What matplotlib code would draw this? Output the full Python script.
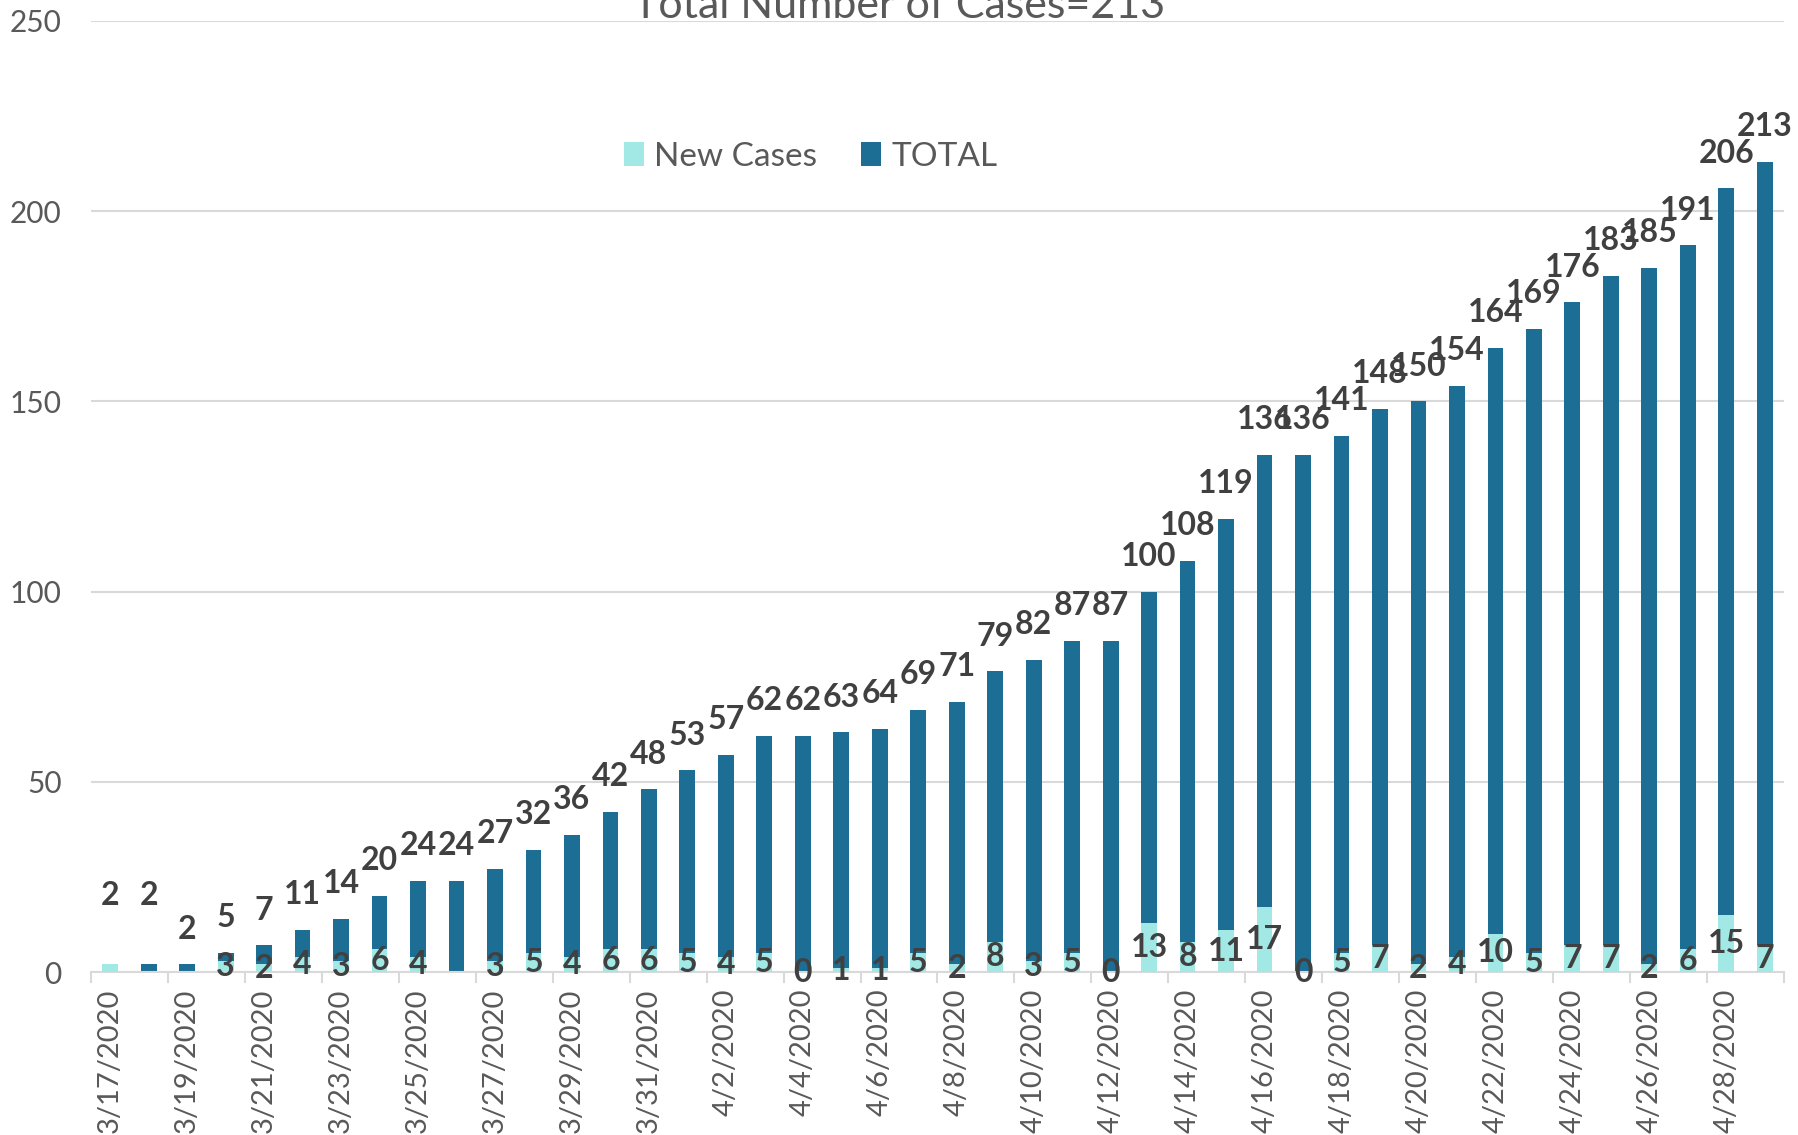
import numpy as np
import matplotlib.pyplot as plt

plt.rcParams['font.family'] = ['Lato', 'DejaVu Sans']

dates = ["3/17/2020", "3/18/2020", "3/19/2020", "3/20/2020", "3/21/2020", "3/22/2020",
         "3/23/2020", "3/24/2020", "3/25/2020", "3/26/2020", "3/27/2020", "3/28/2020",
         "3/29/2020", "3/30/2020", "3/31/2020", "4/1/2020", "4/2/2020", "4/3/2020",
         "4/4/2020", "4/5/2020", "4/6/2020", "4/7/2020", "4/8/2020", "4/9/2020",
         "4/10/2020", "4/11/2020", "4/12/2020", "4/13/2020", "4/14/2020", "4/15/2020",
         "4/16/2020", "4/17/2020", "4/18/2020", "4/19/2020", "4/20/2020", "4/21/2020",
         "4/22/2020", "4/23/2020", "4/24/2020", "4/25/2020", "4/26/2020", "4/27/2020",
         "4/28/2020", "4/29/2020"]
total = [2, 2, 2, 5, 7, 11, 14, 20, 24, 24, 27, 32, 36, 42, 48, 53, 57, 62, 62, 63, 64,
         69, 71, 79, 82, 87, 87, 100, 108, 119, 136, 136, 141, 148, 150, 154, 164, 169,
         176, 183, 185, 191, 206, 213]
# None = blank cell (no label shown)
new_cases = [2, None, None, 3, 2, 4, 3, 6, 4, None, 3, 5, 4, 6, 6, 5, 4, 5, 0, 1, 1,
             5, 2, 8, 3, 5, 0, 13, 8, 11, 17, 0, 5, 7, 2, 4, 10, 5, 7, 7, 2, 6, 15, 7]
title = "Total Number of Cases=213"

dark = "#1C6E94"
light = "#A2E9E5"
label_col = "#404040"
axis_col = "#595959"
grid_col = "#D9D9D9"

x = np.arange(len(dates))
new_vals = np.array([v if v is not None else 0 for v in new_cases], dtype=float)

fig = plt.figure(figsize=(17.98, 11.35), dpi=100)
ax = fig.add_axes([0.0506, 0.1436, 0.9416, 0.8379])

ax.bar(x, total, width=0.41, color=dark, label="TOTAL", zorder=2)
ax.bar(x, new_vals, width=0.41, color=light, label="New Cases", zorder=3)

# total labels above bars (first two pushed up in the original)
for i, v in enumerate(total):
    extra = 24 if i < 2 else 0
    ax.annotate(str(v), (x[i], v), xytext=(0, 15 + extra), textcoords="offset points",
                ha="center", va="bottom", fontsize=23, fontweight="bold",
                color=label_col, zorder=5, annotation_clip=False)

# new case labels centred in their bars (first one sits up with the total label)
for i, v in enumerate(new_cases):
    if v is None or i == 0:
        continue
    ax.text(x[i], v / 2, str(v), ha="center", va="center", fontsize=23,
            fontweight="bold", color=label_col, zorder=5)

ax.set_ylim(0, 250)
ax.set_xlim(-0.5, len(dates) - 0.5)
ax.set_yticks(range(0, 251, 50))
ax.yaxis.grid(True, color=grid_col, linewidth=1.5, zorder=0)
ax.set_axisbelow(True)
ax.tick_params(axis="y", length=0, pad=21, labelsize=21.5, labelcolor=axis_col)

ax.set_xticks(x[::2])
ax.set_xticklabels(dates[::2], rotation=90)
ax.set_xticks(np.arange(-0.5, len(dates), 2), minor=True)
ax.tick_params(axis="x", which="major", length=0, pad=12, labelsize=21, labelcolor=axis_col)
ax.tick_params(axis="x", which="minor", length=8, width=1.5, color=grid_col)

for s in ["top", "right", "left"]:
    ax.spines[s].set_visible(False)
ax.spines["bottom"].set_color(grid_col)
ax.spines["bottom"].set_linewidth(1.5)

handles, labels = ax.get_legend_handles_labels()
ax.legend(handles[::-1], labels[::-1], loc="center", bbox_to_anchor=(0.425, 0.857),
          ncol=2, frameon=False, fontsize=24, labelcolor=axis_col,
          handlelength=0.62, handleheight=0.72, handletextpad=0.3, columnspacing=1.3)

fig.text(0.5, 0.984, title, ha="center", va="baseline", fontsize=31, color=axis_col)

fig.savefig("out.png", dpi=100)
